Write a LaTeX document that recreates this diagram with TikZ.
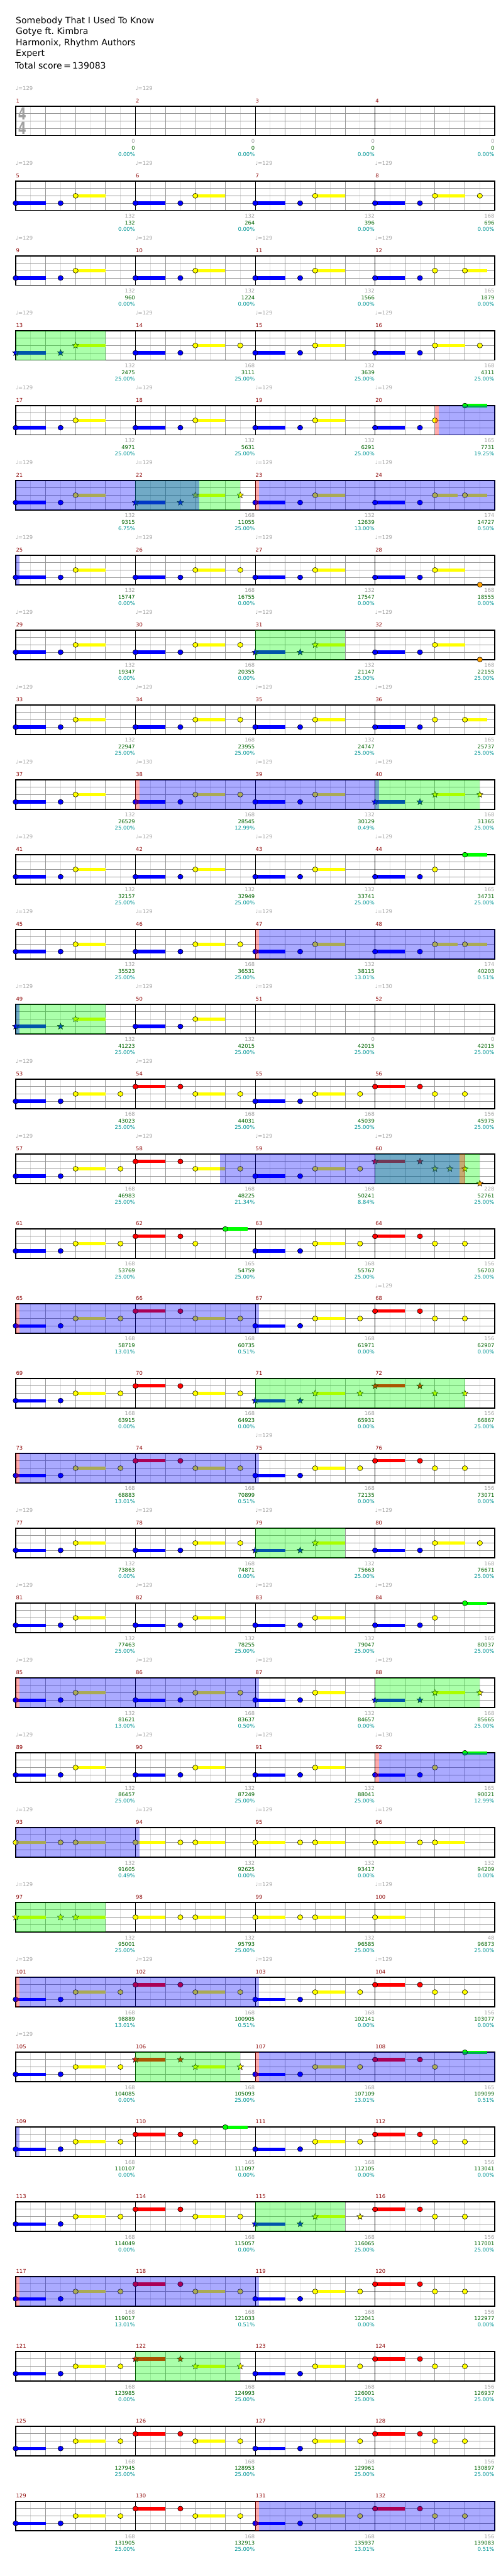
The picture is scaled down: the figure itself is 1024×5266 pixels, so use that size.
\documentclass[tikz,border=0pt]{standalone}
\usepackage{fontspec}
\setmainfont{DejaVu Sans}
\usetikzlibrary{shapes.geometric}
\definecolor{ln0}{RGB}{0,255,0}
\definecolor{ln1}{RGB}{255,0,0}
\definecolor{ln2}{RGB}{255,255,0}
\definecolor{ln3}{RGB}{0,0,255}
\definecolor{ln4}{RGB}{255,160,0}
\definecolor{mnumc}{RGB}{139,0,0}
\definecolor{gscc}{RGB}{160,160,160}
\definecolor{cumc}{RGB}{0,100,0}
\definecolor{pctc}{RGB}{0,150,150}
\definecolor{tmpc}{RGB}{165,165,165}
\definecolor{gdark}{RGB}{150,150,150}
\definecolor{glight}{RGB}{222,222,222}
\definecolor{ovg}{RGB}{0,255,0}
\definecolor{ovb}{RGB}{0,0,255}
\definecolor{ovr}{RGB}{255,0,0}
\tikzset{
  small/.style={font=\fontsize{5.4}{6}\selectfont, inner sep=0pt},
  mnum/.style={small, text=mnumc, anchor=west},
  gsc/.style={small, text=gscc, anchor=east},
  cum/.style={small, text=cumc, anchor=east},
  pct/.style={small, text=pctc, anchor=east},
  tempo/.style={small, text=tmpc, anchor=west},
  title/.style={font=\fontsize{9}{10}\selectfont, anchor=west, inner sep=0pt},
  starnote/.style={star, star points=5, star point ratio=2.3, minimum size=6.8pt, inner sep=0pt, draw=black, line width=0.3pt},
}
% note patterns: pos/lane/length (eighths)
\def\pA{0/3/2,3/3/0,4/2/2}
\def\pAs{0/3/2,3/3/0,4/2/2,7/2/0}
\def\pAo{0/3/2,3/3/0,4/2/2,7/4/0}
\def\pC{0/3/2,3/3/0,4/2/0,6/2/1.5}
\def\pD{0/3/2,3/3/0,4/2/1.5,6/2/1.5}
\def\pG{0/3/2,3/3/0,4/2/0,6/0/1.5}
\def\pR{0/1/2,3/1/0,4/2/2,7/2/0}
\def\pS{0/1/2,3/1/0,4/2/0,6/2/0}
\def\pT{0/1/2,3/1/0,4/2/0,6/0/1.5}
\def\pY{0/2/2,3/2/0,4/2/2}
\def\pYe{0/2/2}
\def\pSp{0/1/2,3/1/0,4/2/0,5/2/0,6/2/0,7/4/0}
\newcommand\Mz[3]{%
  \pgfmathsetmacro\mx{32+245*mod(#1-1,4)}%
  \pgfmathsetmacro\my{217.3+153*floor((#1-1)/4)}%
  \edef\mylist{#3}%
  \begin{scope}[shift={(\mx,\my)}]
    \foreach \p/\l/\n in \mylist {%
      \ifdim\n pt>0pt \fill[ln\l] ({\p*30.625},{\l*15-3.4}) rectangle ({(\p+\n)*30.625},{\l*15+3.4}); \fi
      \ifnum#2=1
        \node[starnote, fill=ln\l] at ({\p*30.625},{\l*15}) {};
      \else
        \filldraw[fill=ln\l, draw=black, line width=0.35pt] ({\p*30.625},{\l*15}) ellipse [x radius=2.7pt, y radius=2.55pt];
      \fi
    }
  \end{scope}}
\newcommand\OV[4]{%
  \pgfmathsetmacro\oy{217.3+153*(#2-1)}%
  \fill[#1, fill opacity=0.3333] ({32+#3*30.625},\oy) rectangle ({32+#4*30.625},\oy+60);}
\begin{document}
\begin{tikzpicture}[x=0.5pt, y=-0.5pt]
\useasboundingbox (0,0) rectangle (1024,5266);
\fill[white] (0,0) rectangle (1024,5266);
% title
\node[title] (t1) at (32,42.7) {Somebody That I Used To Know};
\node[title] (t2) at (32,65.4) {Gotye ft.\ Kimbra};
\node[title] (t3) at (32,88.1) {Harmonix, Rhythm Authors};
\node[title] (t4) at (32,110.8) {Expert};
\node[title] (t5) at (30.5,133.5) {Total score\,=\,139083};
% staffs
\foreach \r in {1,...,33} {
  \pgfmathsetmacro\T{217.3+153*(\r-1)}
  \begin{scope}[shift={(0,\T)}]
    \foreach \i in {1,3,...,31} \draw[glight, line width=0.5pt] ({32+\i*30.625},0) -- ++(0,60);
    \foreach \i in {2,4,6,10,12,14,18,20,22,26,28,30} \draw[gdark, line width=0.5pt] ({32+\i*30.625},0) -- ++(0,60);
    \foreach \yy in {15,30,45} \draw[gdark, line width=0.6pt] (32,\yy) -- (1012,\yy);
    \foreach \i in {8,16,24} \draw[black, line width=0.5pt] ({32+\i*30.625},0) -- ++(0,60);
    \draw[black, line width=1pt] (32,0) rectangle (1012,60);
  \end{scope}
}
% time signature
\node[font=\bfseries\fontsize{17}{17}\selectfont, text=gscc, xscale=0.7, inner sep=0pt] (ts1) at (45.5,232.3) {4};
\node[font=\bfseries\fontsize{17}{17}\selectfont, text=gscc, xscale=0.7, inner sep=0pt] (ts2) at (45.5,261.5) {4};
% notes
\Mz{5}{0}{\pA}\Mz{6}{0}{\pA}\Mz{7}{0}{\pA}\Mz{8}{0}{\pAs}
\Mz{9}{0}{\pA}\Mz{10}{0}{\pA}\Mz{11}{0}{\pA}\Mz{12}{0}{\pC}
\Mz{13}{1}{\pA}\Mz{14}{0}{\pAs}\Mz{15}{0}{\pA}\Mz{16}{0}{\pAs}
\Mz{17}{0}{\pA}\Mz{18}{0}{\pA}\Mz{19}{0}{\pA}\Mz{20}{0}{\pG}
\Mz{21}{0}{\pA}\Mz{22}{1}{\pAs}\Mz{23}{0}{\pA}\Mz{24}{0}{\pD}
\Mz{25}{0}{\pA}\Mz{26}{0}{\pAs}\Mz{27}{0}{\pA}\Mz{28}{0}{\pAo}
\Mz{29}{0}{\pA}\Mz{30}{0}{\pAs}\Mz{31}{1}{\pA}\Mz{32}{0}{\pAo}
\Mz{33}{0}{\pA}\Mz{34}{0}{\pAs}\Mz{35}{0}{\pA}\Mz{36}{0}{\pC}
\Mz{37}{0}{\pA}\Mz{38}{0}{\pAs}\Mz{39}{0}{\pA}\Mz{40}{1}{\pAs}
\Mz{41}{0}{\pA}\Mz{42}{0}{\pA}\Mz{43}{0}{\pA}\Mz{44}{0}{\pG}
\Mz{45}{0}{\pA}\Mz{46}{0}{\pAs}\Mz{47}{0}{\pA}\Mz{48}{0}{\pD}
\Mz{49}{1}{\pA}\Mz{50}{0}{\pA}
\Mz{53}{0}{\pAs}\Mz{54}{0}{\pR}\Mz{55}{0}{\pAs}\Mz{56}{0}{\pS}
\Mz{57}{0}{\pAs}\Mz{58}{0}{\pR}\Mz{59}{0}{\pAs}\Mz{60}{1}{\pSp}
\Mz{61}{0}{\pAs}\Mz{62}{0}{\pT}\Mz{63}{0}{\pAs}\Mz{64}{0}{\pS}
\Mz{65}{0}{\pAs}\Mz{66}{0}{\pR}\Mz{67}{0}{\pAs}\Mz{68}{0}{\pS}
\Mz{69}{0}{\pAs}\Mz{70}{0}{\pR}\Mz{71}{1}{\pAs}\Mz{72}{1}{\pS}
\Mz{73}{0}{\pAs}\Mz{74}{0}{\pR}\Mz{75}{0}{\pAs}\Mz{76}{0}{\pS}
\Mz{77}{0}{\pA}\Mz{78}{0}{\pAs}\Mz{79}{1}{\pA}\Mz{80}{0}{\pAs}
\Mz{81}{0}{\pA}\Mz{82}{0}{\pA}\Mz{83}{0}{\pA}\Mz{84}{0}{\pG}
\Mz{85}{0}{\pA}\Mz{86}{0}{\pAs}\Mz{87}{0}{\pA}\Mz{88}{1}{\pAs}
\Mz{89}{0}{\pA}\Mz{90}{0}{\pA}\Mz{91}{0}{\pA}\Mz{92}{0}{\pG}
\Mz{93}{0}{\pY}\Mz{94}{0}{\pY}\Mz{95}{0}{\pY}\Mz{96}{0}{\pY}
\Mz{97}{1}{\pY}\Mz{98}{0}{\pY}\Mz{99}{0}{\pY}\Mz{100}{0}{\pYe}
\Mz{101}{0}{\pAs}\Mz{102}{0}{\pR}\Mz{103}{0}{\pAs}\Mz{104}{0}{\pS}
\Mz{105}{0}{\pAs}\Mz{106}{1}{\pR}\Mz{107}{0}{\pAs}\Mz{108}{0}{\pT}
\Mz{109}{0}{\pAs}\Mz{110}{0}{\pT}\Mz{111}{0}{\pAs}\Mz{112}{0}{\pS}
\Mz{113}{0}{\pAs}\Mz{114}{0}{\pR}\Mz{115}{1}{\pAs}\Mz{116}{0}{\pS}
\Mz{117}{0}{\pAs}\Mz{118}{0}{\pR}\Mz{119}{0}{\pAs}\Mz{120}{0}{\pS}
\Mz{121}{0}{\pAs}\Mz{122}{1}{\pR}\Mz{123}{0}{\pAs}\Mz{124}{0}{\pS}
\Mz{125}{0}{\pAs}\Mz{126}{0}{\pR}\Mz{127}{0}{\pAs}\Mz{128}{0}{\pS}
\Mz{129}{0}{\pAs}\Mz{130}{0}{\pR}\Mz{131}{0}{\pAs}\Mz{132}{0}{\pS}
% overlays: green phrases
\OV{ovg}{4}{0}{6}\OV{ovg}{6}{8}{15}\OV{ovg}{8}{16}{22}\OV{ovg}{10}{24}{31}
\OV{ovg}{13}{0}{6}\OV{ovg}{15}{24}{31}\OV{ovg}{18}{16}{30}\OV{ovg}{20}{16}{22}
\OV{ovg}{22}{24}{31}\OV{ovg}{25}{0}{6}\OV{ovg}{27}{8}{15}\OV{ovg}{29}{16}{22}
\OV{ovg}{31}{8}{15}
% overdrive
\OV{ovb}{5}{28.27}{32}\OV{ovb}{6}{0}{12.27}\OV{ovb}{6}{16.27}{32}\OV{ovb}{7}{0}{0.27}
\OV{ovb}{10}{8.27}{24.27}\OV{ovb}{12}{16.27}{32}\OV{ovb}{13}{0}{0.27}
\OV{ovb}{15}{13.64}{29.64}\OV{ovb}{17}{0.27}{16.27}\OV{ovb}{19}{0.27}{16.27}
\OV{ovb}{22}{0.27}{16.27}\OV{ovb}{23}{24.27}{32}\OV{ovb}{24}{0}{8.27}
\OV{ovb}{26}{0.27}{16.27}\OV{ovb}{27}{16.27}{32}\OV{ovb}{28}{0}{0.27}
\OV{ovb}{30}{0.27}{16.27}\OV{ovb}{33}{16.27}{32}
% activation marks
\OV{ovr}{5}{28}{28.27}\OV{ovr}{6}{16}{16.27}\OV{ovr}{10}{8}{8.27}\OV{ovr}{12}{16}{16.27}
\OV{ovr}{15}{29.64}{30}\OV{ovr}{17}{0}{0.27}\OV{ovr}{19}{0}{0.27}\OV{ovr}{22}{0}{0.27}
\OV{ovr}{23}{24}{24.27}\OV{ovr}{26}{0}{0.27}\OV{ovr}{27}{16}{16.27}\OV{ovr}{30}{0}{0.27}
\OV{ovr}{33}{16}{16.27}
% measure numbers
\foreach \m in {1,...,132} {
  \pgfmathsetmacro\xa{32+245*mod(\m-1,4)}
  \pgfmathsetmacro\T{217.3+153*floor((\m-1)/4)}
  \node[mnum] at (\xa+0.5,\T-11.5) {\m};
}
% tempo marks
\foreach \m/\v in {1/129,2/129,5/129,6/129,7/129,8/129,9/129,10/129,11/129,12/129,
  13/129,14/129,15/129,16/129,17/129,18/129,19/129,20/129,21/129,22/129,23/129,24/129,
  25/129,26/129,27/129,28/129,29/129,30/129,31/129,32/129,33/129,34/129,35/129,36/129,
  37/129,38/130,39/129,40/129,41/129,42/129,43/129,44/129,45/129,46/129,47/129,48/129,
  49/129,50/129,51/129,52/130,53/129,54/129,57/129,58/129,59/129,60/129,68/129,75/129,
  77/129,78/129,79/129,80/129,81/129,82/129,83/129,84/129,85/129,86/129,87/129,88/129,
  89/129,90/129,91/129,92/130,93/129,94/129,95/129,96/129,97/129,99/129,100/129,
  101/129,102/129,103/129,104/129,105/129} {
  \pgfmathsetmacro\xa{32+245*mod(\m-1,4)}
  \pgfmathsetmacro\T{217.3+153*floor((\m-1)/4)}
  \node[tempo] at (\xa,\T-37) {♩=\v};
}
% scores
\foreach \m/\g/\c/\q in {1/0/0/0.00,2/0/0/0.00,3/0/0/0.00,4/0/0/0.00,
  5/132/132/0.00,6/132/264/0.00,7/132/396/0.00,8/168/696/0.00,
  9/132/960/0.00,10/132/1224/0.00,11/132/1566/0.00,12/165/1879/0.00,
  13/132/2475/25.00,14/168/3111/25.00,15/132/3639/25.00,16/168/4311/25.00,
  17/132/4971/25.00,18/132/5631/25.00,19/132/6291/25.00,20/165/7731/19.25,
  21/132/9315/6.75,22/168/11055/25.00,23/132/12639/13.00,24/174/14727/0.50,
  25/132/15747/0.00,26/168/16755/0.00,27/132/17547/0.00,28/168/18555/0.00,
  29/132/19347/0.00,30/168/20355/0.00,31/132/21147/25.00,32/168/22155/25.00,
  33/132/22947/25.00,34/168/23955/25.00,35/132/24747/25.00,36/165/25737/25.00,
  37/132/26529/25.00,38/168/28545/12.99,39/132/30129/0.49,40/168/31365/25.00,
  41/132/32157/25.00,42/132/32949/25.00,43/132/33741/25.00,44/165/34731/25.00,
  45/132/35523/25.00,46/168/36531/25.00,47/132/38115/13.01,48/174/40203/0.51,
  49/132/41223/25.00,50/132/42015/25.00,51/0/42015/25.00,52/0/42015/25.00,
  53/168/43023/25.00,54/168/44031/25.00,55/168/45039/25.00,56/156/45975/25.00,
  57/168/46983/25.00,58/168/48225/21.34,59/168/50241/8.84,60/228/52761/25.00,
  61/168/53769/25.00,62/165/54759/25.00,63/168/55767/25.00,64/156/56703/25.00,
  65/168/58719/13.01,66/168/60735/0.51,67/168/61971/0.00,68/156/62907/0.00,
  69/168/63915/0.00,70/168/64923/0.00,71/168/65931/0.00,72/156/66867/25.00,
  73/168/68883/13.01,74/168/70899/0.51,75/168/72135/0.00,76/156/73071/0.00,
  77/132/73863/0.00,78/168/74871/0.00,79/132/75663/25.00,80/168/76671/25.00,
  81/132/77463/25.00,82/132/78255/25.00,83/132/79047/25.00,84/165/80037/25.00,
  85/132/81621/13.00,86/168/83637/0.50,87/132/84657/0.00,88/168/85665/25.00,
  89/132/86457/25.00,90/132/87249/25.00,91/132/88041/25.00,92/165/90021/12.99,
  93/132/91605/0.49,94/132/92625/0.00,95/132/93417/0.00,96/132/94209/0.00,
  97/132/95001/25.00,98/132/95793/25.00,99/132/96585/25.00,100/48/96873/25.00,
  101/168/98889/13.01,102/168/100905/0.51,103/168/102141/0.00,104/156/103077/0.00,
  105/168/104085/0.00,106/168/105093/25.00,107/168/107109/13.01,108/165/109099/0.51,
  109/168/110107/0.00,110/165/111097/0.00,111/168/112105/0.00,112/156/113041/0.00,
  113/168/114049/0.00,114/168/115057/0.00,115/168/116065/25.00,116/156/117001/25.00,
  117/168/119017/13.01,118/168/121033/0.51,119/168/122041/0.00,120/156/122977/0.00,
  121/168/123985/0.00,122/168/124993/25.00,123/168/126001/25.00,124/156/126937/25.00,
  125/168/127945/25.00,126/168/128953/25.00,127/168/129961/25.00,128/156/130897/25.00,
  129/168/131905/25.00,130/168/132913/25.00,131/168/135937/13.01,132/156/139083/0.51} {
  \pgfmathsetmacro\xb{32+245*(mod(\m-1,4)+1)}
  \pgfmathsetmacro\T{217.3+153*floor((\m-1)/4)}
  \node[gsc] at (\xb-0.5,\T+71.7) {\g};
  \node[cum] at (\xb-0.5,\T+85) {\c};
  \node[pct] at (\xb-0.5,\T+98.3) {\q\%};
}
\end{tikzpicture}
\end{document}
